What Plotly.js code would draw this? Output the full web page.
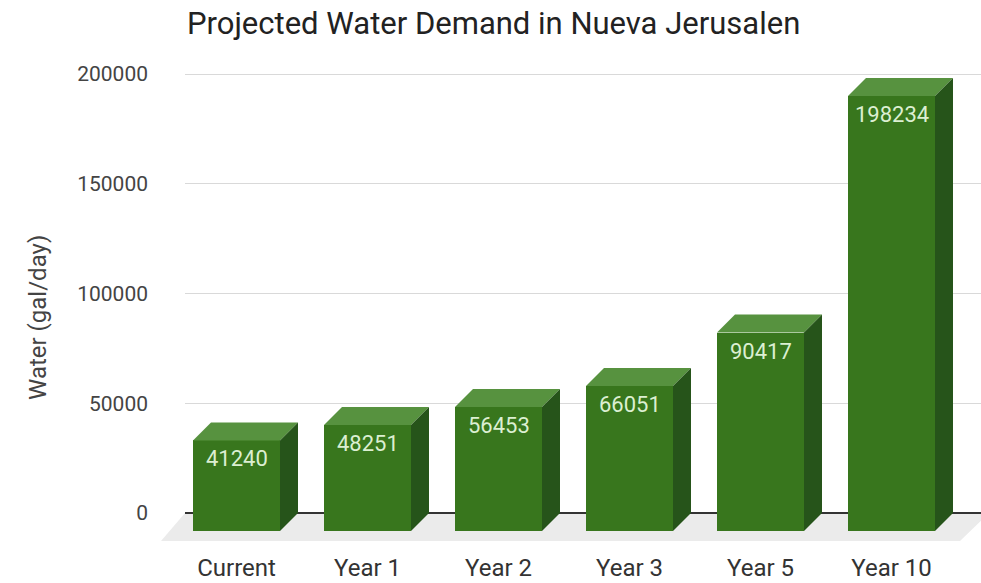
<!DOCTYPE html>
<html>
<head>
<meta charset="utf-8">
<script src="https://cdn.plot.ly/plotly-3.0.1.min.js"></script>
<style>html,body{margin:0;padding:0;background:#fff;}#chart{width:981px;height:583px;}</style>
</head>
<body>
<div id="chart"></div>
<script>
// ---- data ----
const categories = ['Current', 'Year 1', 'Year 2', 'Year 3', 'Year 5', 'Year 10'];
const demand = [41240, 48251, 56453, 66051, 90417, 198234];
const yTickVals = [0, 50000, 100000, 150000, 200000];
const yTickText = ['0', '50000', '100000', '150000', '200000'];

// ---- layout geometry ----
const W = 981, H = 583;
const mL = 185, mR = 0, mT = 60, mB = 38;
const plotW = W - mL - mR, plotH = H - mT - mB;
const xRange = [-0.5305, 5.5458];
const yRange = [-14579, 206378];
const pxPerX = plotW / (xRange[1] - xRange[0]);
const pxPerY = plotH / (yRange[1] - yRange[0]);
const depthPx = 18;
const dx = depthPx / pxPerX;     // 3D offset in category units
const dy = depthPx / pxPerY;     // 3D offset in value units
const barW = 87 / pxPerX;

const cFront = '#38761d', cTop = '#57923f', cSide = '#26541a';

const idx = categories.map((c, i) => i);
const frontX = idx.map(i => i - dx);

const shapes = [];
// floor (paper coords derived from the y axis)
const py = v => (v - yRange[0]) / (yRange[1] - yRange[0]);
const pxToPaperX = p => (p - mL) / plotW;
const floorDepthY = 28 / pxPerY;
shapes.push({
  type: 'path', xref: 'paper', yref: 'paper', layer: 'below',
  path: `M 0 ${py(0)} L 1.01 ${py(0)} L ${pxToPaperX(960)} ${py(-floorDepthY)} L ${pxToPaperX(161)} ${py(-floorDepthY)} Z`,
  fillcolor: '#ebebeb', line: {width: 0}
});
demand.forEach((v, i) => {
  const l = i - barW / 2, r = i + barW / 2;
  // top face
  shapes.push({
    type: 'path', xref: 'x', yref: 'y', layer: 'above',
    path: `M ${l - dx} ${v - dy} L ${r - dx} ${v - dy} L ${r} ${v} L ${l} ${v} Z`,
    fillcolor: cTop, line: {width: 0}
  });
  // side face
  shapes.push({
    type: 'path', xref: 'x', yref: 'y', layer: 'above',
    path: `M ${r - dx} ${v - dy} L ${r} ${v} L ${r} 0 L ${r - dx} ${-dy} Z`,
    fillcolor: cSide, line: {width: 0}
  });
});

const annotations = demand.map((v, i) => ({
  x: i - dx, y: v - dy, xref: 'x', yref: 'y',
  text: String(v), showarrow: false, yanchor: 'top', yshift: -4,
  font: {family: 'Roboto', size: 22, color: '#dcefd2'}
}));
annotations.push({
  xref: 'paper', yref: 'paper', x: pxToPaperX(22), y: (H - mB - 318) / plotH,
  text: 'Water (gal/day)', textangle: -90, showarrow: false,
  font: {family: 'Roboto', size: 24, color: '#444'}
});

const trace = {
  type: 'bar', x: frontX, y: demand, base: demand.map(() => -dy), width: barW,
  marker: {color: cFront, line: {width: 0}}, hoverinfo: 'skip', showlegend: false
};

const layout = {
  width: W, height: H,
  margin: {l: mL, r: mR, t: mT, b: mB},
  paper_bgcolor: '#fff', plot_bgcolor: '#fff',
  font: {family: 'Roboto', color: '#444'},
  title: {text: 'Projected Water Demand in Nueva Jerusalen', xref: 'container', yref: 'container',
    x: 187 / W, xanchor: 'left', y: 1 - 23 / H, yanchor: 'middle',
    font: {family: 'Roboto', size: 31, color: '#222'}},
  xaxis: {range: xRange, tickvals: frontX, ticktext: categories, showgrid: false, zeroline: false,
    showline: false, ticks: '', tickfont: {family: 'Roboto', size: 24, color: '#333'}, ticklabelstandoff: 6, fixedrange: true},
  yaxis: {range: yRange, tickvals: yTickVals, ticktext: yTickText, showgrid: true, gridcolor: '#d9d9d9', gridwidth: 1,
    zeroline: true, zerolinecolor: '#333', zerolinewidth: 1.5, showline: false, ticks: '',
    tickfont: {family: 'Roboto', size: 21, color: '#444'}, ticklabelstandoff: 36, fixedrange: true},
  shapes: shapes, annotations: annotations, bargap: 0
};

Plotly.newPlot('chart', [trace], layout, {displayModeBar: false, staticPlot: true});
</script>
</body>
</html>
